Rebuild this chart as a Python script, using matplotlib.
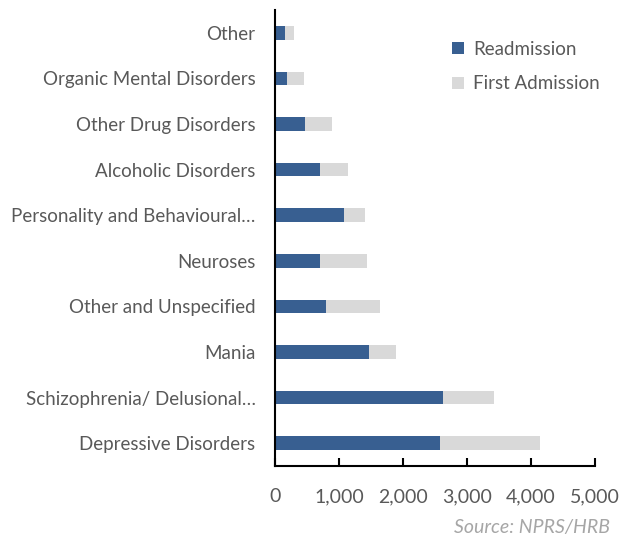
import numpy as np
import matplotlib.pyplot as plt

# admissions by diagnosis, bottom to top
categories = ['Depressive Disorders', 'Schizophrenia/ Delusional\u2026', 'Mania',
              'Other and Unspecified', 'Neuroses', 'Personality and Behavioural\u2026',
              'Alcoholic Disorders', 'Other Drug Disorders', 'Organic Mental Disorders',
              'Other']
readmission = [2583, 2625, 1474, 797, 703, 1083, 703, 474, 187, 156]
first_admission = [1563, 792, 411, 838, 729, 328, 438, 417, 271, 136]
xticks = [0, 1000, 2000, 3000, 4000, 5000]

plt.rcParams['font.family'] = ['Lato', 'DejaVu Sans']
grey = '#595959'

fig = plt.figure(figsize=(6.2, 5.38), dpi=100)
ax = fig.add_axes([275/620, 1 - 466/538, 320/620, 456/538])

y = np.arange(len(categories))
ax.barh(y, readmission, height=0.3, color='#385F91', label='Readmission')
ax.barh(y, first_admission, left=readmission, height=0.3, color='#D9D9D9',
        label='First Admission')

ax.set_xlim(0, 5000)
ax.set_ylim(-0.5, len(categories) - 0.5)
ax.set_yticks(y)
ax.set_yticklabels(categories, fontsize=13.5, color=grey)
ax.set_xticks(xticks)
ax.set_xticklabels(['{:,}'.format(v) for v in xticks], fontsize=14, color=grey)
ax.tick_params(axis='y', length=0, pad=14)
ax.tick_params(axis='x', direction='in', length=6, width=1.5, pad=16)

for side in ['top', 'right']:
    ax.spines[side].set_visible(False)
ax.spines['left'].set_linewidth(1.5)
ax.spines['bottom'].set_linewidth(1.5)

ax.legend(loc='upper left', bbox_to_anchor=(0.5, 0.97), frameon=False,
          fontsize=13.5, labelcolor=grey, handlelength=0.65, handleheight=0.65,
          labelspacing=0.95, handletextpad=0.5)

fig.text(610/620, 1 - 527/538, 'Source: NPRS/HRB', ha='right', va='center',
         fontsize=14, style='italic', color='#A6A6A6')

fig.savefig('out.png', dpi=100)
